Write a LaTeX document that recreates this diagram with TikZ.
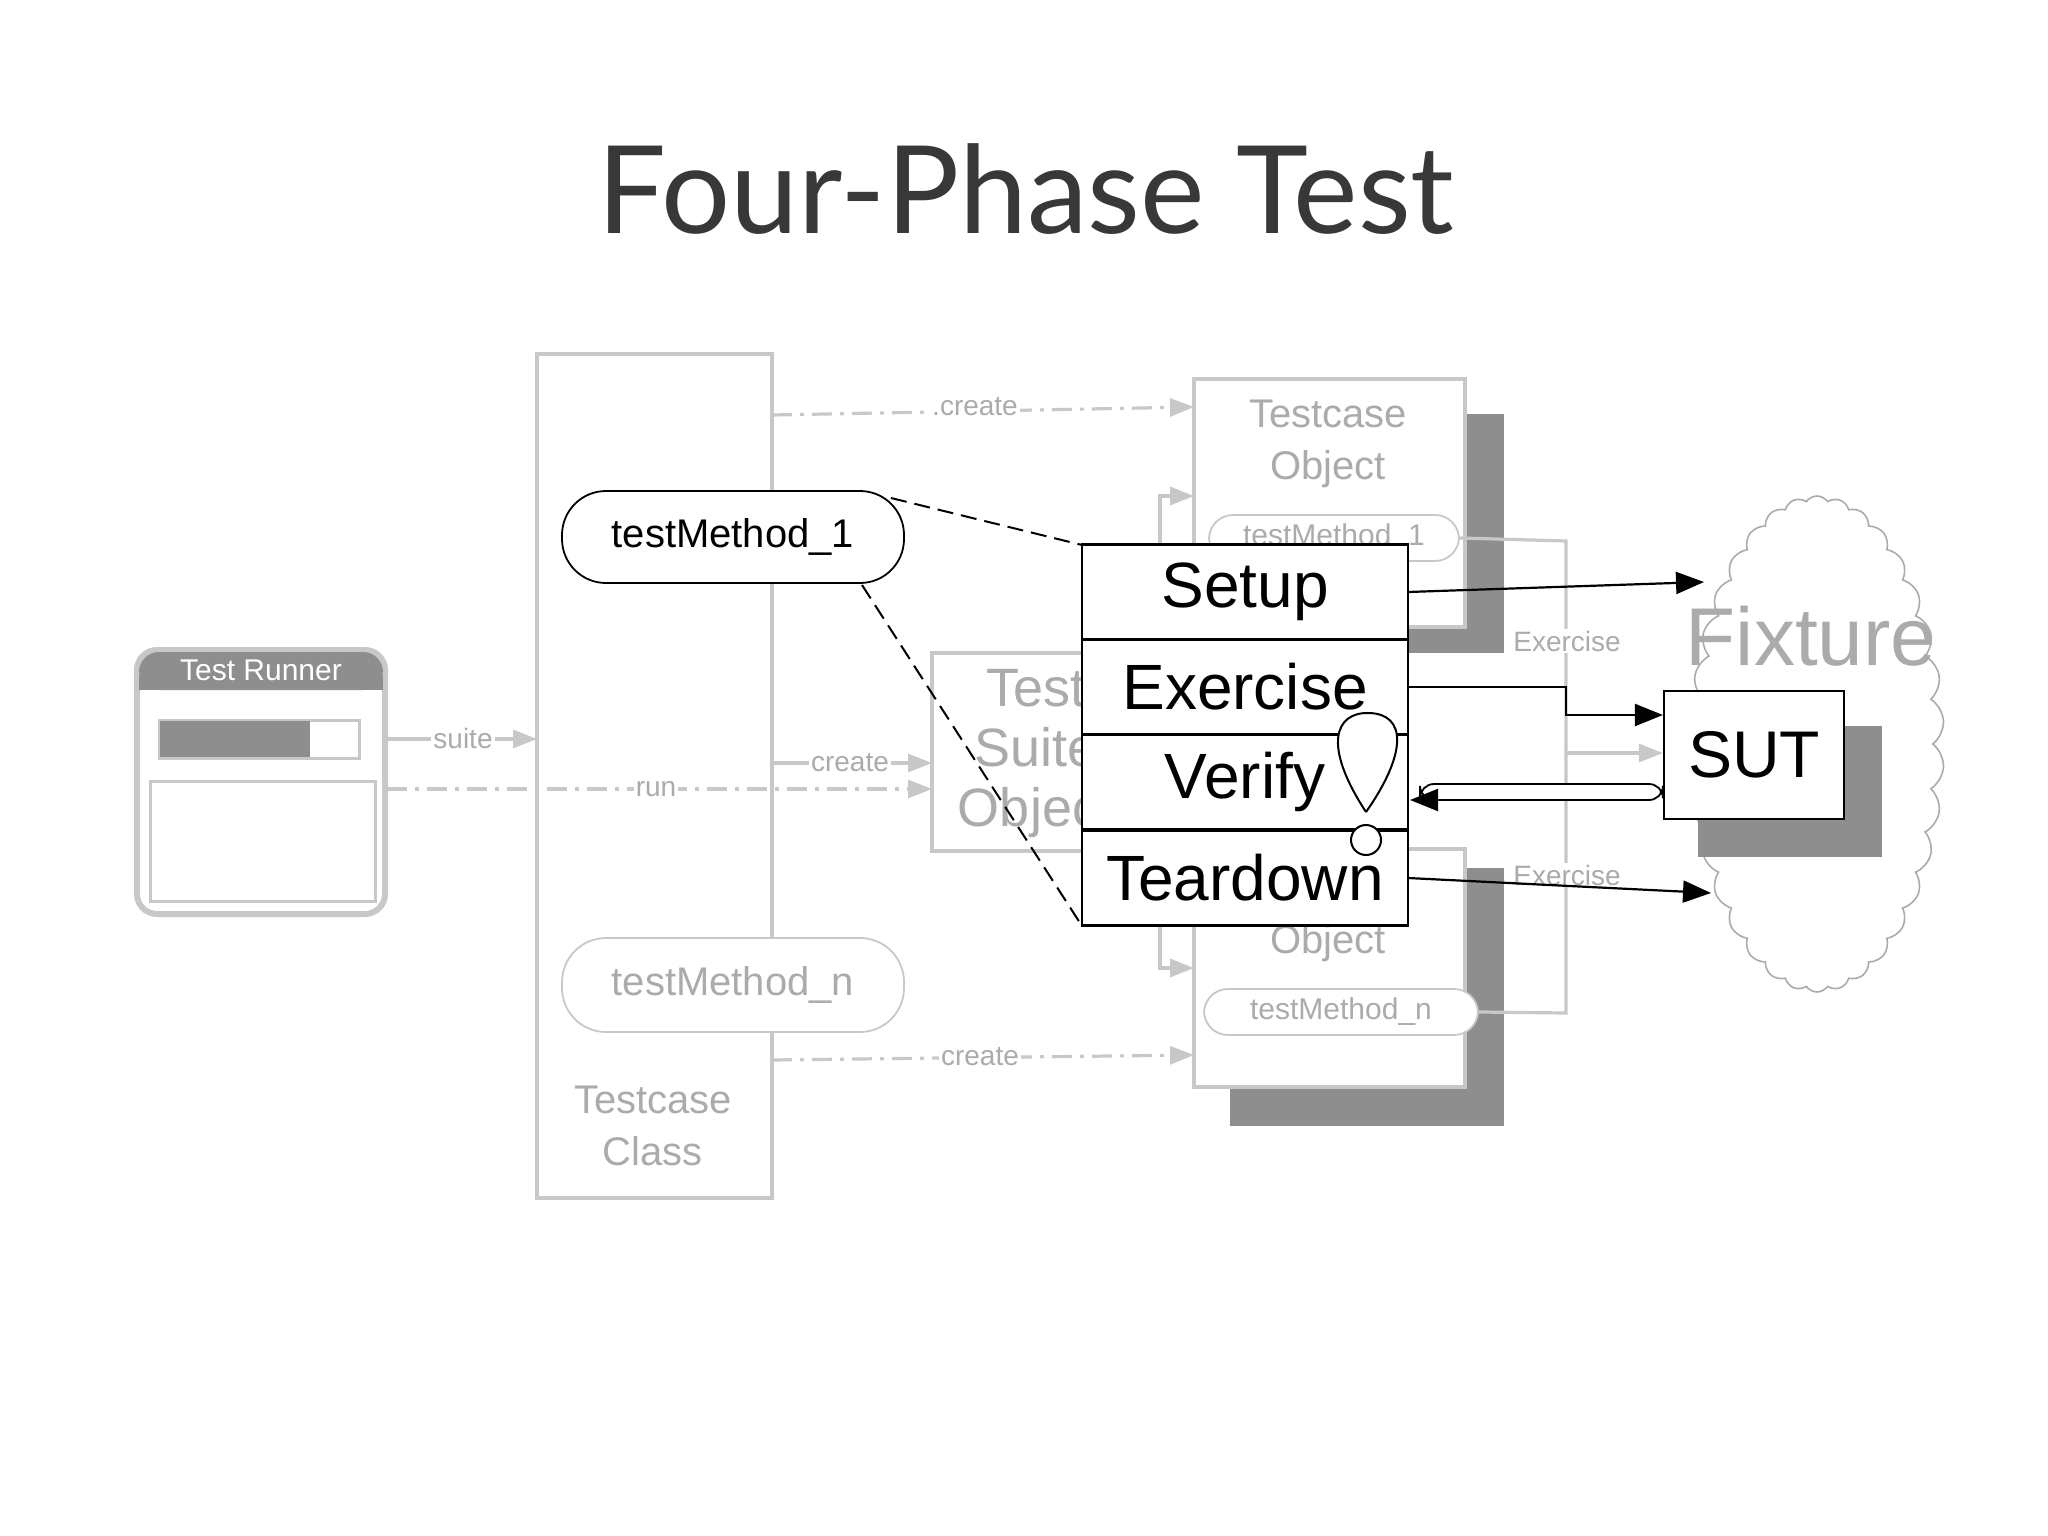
\documentclass[tikz,border=0pt]{standalone}
\usepackage{fontspec}
\setmainfont{Liberation Sans}
\newfontfamily\titlefont{Lato}
\usetikzlibrary{arrows.meta,shapes.symbols}
\definecolor{lg}{HTML}{C8C8C8}
\definecolor{lt}{HTML}{ABABAB}
\definecolor{sh}{HTML}{8E8E8E}
\begin{document}
\begin{tikzpicture}[x=0.5pt,y=-0.5pt,
  faint/.style={draw=lg,line width=1.6pt},
  dd/.style={draw=lg,line width=1.6pt,dash pattern=on 10pt off 4pt on 2pt off 4pt},
  gtip/.style={-{Triangle[length=12pt,width=9pt]},lg},
  btip/.style={-{Triangle[length=14pt,width=11pt]},black},
  small/.style={text=lt,font=\fontsize{14}{15}\selectfont,inner sep=1pt,fill=white},
  pill/.style={rounded corners=22pt,line width=0.9pt},
  phase/.style={draw=black,line width=1.1pt,fill=white,minimum width=163pt,minimum height=47.5pt,font=\fontsize{32}{34}\selectfont,inner sep=0pt}]
\useasboundingbox (0,0) rectangle (2048,1535);
\node[font=\titlefont\fontsize{61}{64}\selectfont,text=black!78] (title) at (1026,189) {Four-Phase Test};

% Testcase class
\draw[faint] (537,354) rectangle (772,1198);
\node[text=lt,font=\fontsize{20}{26}\selectfont,align=center] (tcc) at (653,1126) {Testcase\\Class};
\node[draw=black,pill,fill=white,minimum width=171pt,minimum height=46pt,font=\fontsize{20}{22}\selectfont] (tm1) at (733,537) {testMethod\_1};
\node[draw=lg,pill,fill=white,minimum width=171pt,minimum height=47pt,text=lt,font=\fontsize{20}{22}\selectfont] (tmn) at (733,985) {testMethod\_n};

% Test runner
\draw[draw=lg,line width=3pt,rounded corners=10pt,fill=white] (137,650) rectangle (385,914);
\fill[sh,rounded corners=10pt] (139,652) rectangle (383,690);
\fill[sh] (139,675) rectangle (383,690);
\node[text=white,font=\fontsize{15}{16}\selectfont] (trl) at (261,670) {Test Runner};
\draw[lg,line width=1.5pt] (159,720) rectangle (359,758);
\fill[sh] (160,721) rectangle (310,757);
\draw[lg,line width=1.5pt] (150,781) rectangle (375,901);
\coordinate (tr1) at (387,739);
\coordinate (tr2) at (387,789);

% Test suite object
\draw[faint,fill=white] (932,653) rectangle (1140,851);
\node[text=lt,font=\fontsize{27}{30}\selectfont,align=center] (tso) at (1036,754) {Test\\Suite\\Object};

% top testcase object
\fill[sh] (1230,414) rectangle (1504,653);
\draw[faint,fill=white] (1194,379) rectangle (1465,627);
\node[text=lt,font=\fontsize{20}{26}\selectfont,align=center] (tco1) at (1328,444) {Testcase\\Object};
\node[draw=lg,pill,rounded corners=12pt,fill=white,minimum width=125pt,minimum height=23pt,text=lt,font=\fontsize{15}{16}\selectfont] (stm1) at (1334,538) {testMethod\_1};

% bottom testcase object
\fill[sh] (1230,868) rectangle (1504,1126);
\draw[faint,fill=white] (1194,849) rectangle (1465,1087);
\node[text=lt,font=\fontsize{20}{26}\selectfont] (tco2) at (1328,943) {Object};
\node[draw=lg,pill,rounded corners=12pt,fill=white,minimum width=137pt,minimum height=23pt,text=lt,font=\fontsize{15}{16}\selectfont] (stmn) at (1341,1012) {testMethod\_n};

% exercise connectors from testcase objects
\draw[faint] (stm1.east) -- (1566,541) -- (1566,1013) -- (stmn.east);
\coordinate (ex) at (1566,753);
\node[small] (exl1) at (1567,641) {Exercise};
\node[small] (exl2) at (1567,875) {Exercise};

% creates
\draw[dd,gtip] (772,415) -- (1194,407);
\node[small] at (975,407) {.create};
\draw[dd,gtip] (772,1060) -- (1194,1055);
\node[small] at (980,1057) {create};
\draw[faint,gtip] (1160,700) -- (1160,496) -- (1194,496);
\draw[faint,gtip] (1160,900) -- (1160,968) -- (1194,968);
\draw[faint,gtip] (772,763) -- (932,763);
\node[small] at (850,763) {create};
\draw[faint,gtip] (tr1) -- (537,739);
\node[small] at (463,738) {suite};
\draw[dd,gtip] (tr2) -- (932,789);
\node[small] at (656,789) {run};

% fixture cloud
\node[cloud,draw=lt,line width=0.8pt,cloud puffs=34,cloud puff arc=110,aspect=0.52,minimum width=127pt,minimum height=248pt,fill=white] (fix) at (1817,744) {};
\node[text=lt,font=\fontsize{41}{44}\selectfont] (fixl) at (1811,636) {Fixture};
\fill[sh] (1698,726) rectangle (1882,857);
\node[draw=black,line width=1.1pt,fill=white,minimum width=90pt,minimum height=64pt,font=\fontsize{33}{35}\selectfont,inner sep=0pt] (sut) at (1754,755) {SUT};
\draw[lg,line width=1.6pt,gtip] (ex) -- (sut.west|-ex);

% dashed links
\draw[black,line width=1pt,dash pattern=on 8pt off 4pt] (891,498) -- (1082,545);
\draw[black,line width=1pt,dash pattern=on 8pt off 4pt] (862,585) -- (1082,926);

% phases
\node[phase] (setup) at (1245,592) {Setup};
\node[phase] (exer) at (1245,687) {Exercise};
\node[phase] (verify) at (1245,782) {Verify};
\node[phase] (tear) at (1245,878) {Teardown};

\draw[line width=1.1pt,btip] (1408,592) -- (1704,582);
\draw[line width=1.1pt,btip] (1408,687) -- (1566,687) -- (1566,715) -- (sut.west|-1566,715);
\draw[line width=1.1pt,btip] (1408,878) -- (1711,893);
\draw[line width=0.9pt,fill=white,rounded corners=7pt] (1420,784) rectangle (sut.west|-1420,800);
\draw[line width=1.1pt,btip] (1440,800) -- (1410,800);
\draw[line width=1pt,fill=white] (1366,812) .. controls (1322,745) and (1335,712) .. (1369,713) .. controls (1406,714) and (1408,752) .. (1366,812);
\draw[line width=1pt,fill=white] (1366,840) circle (15);
\end{tikzpicture}
\end{document}
